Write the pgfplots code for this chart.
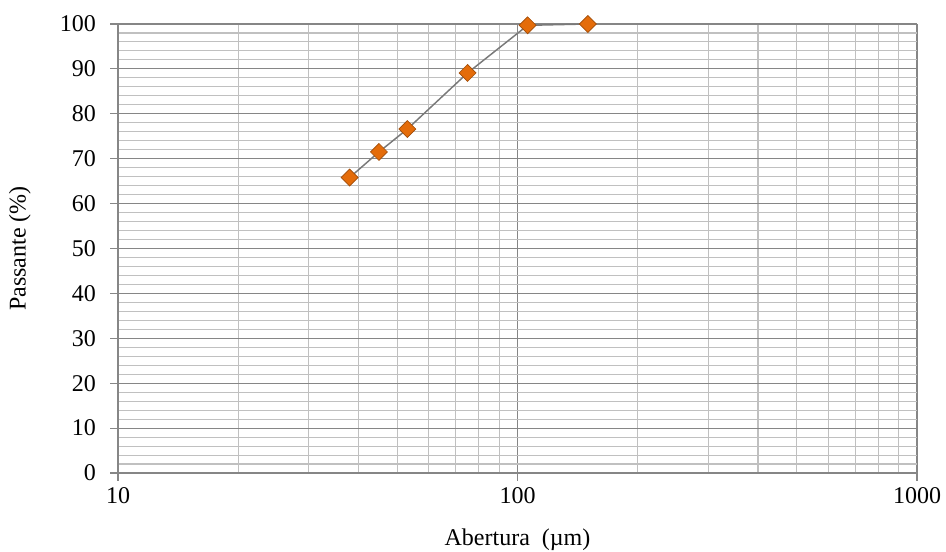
\documentclass[border=0pt]{standalone}
\usepackage{fontspec}
\setmainfont{Liberation Serif}
\usepackage{pgfplots}
\pgfplotsset{compat=1.18}
\definecolor{majg}{HTML}{868686}
\definecolor{ming}{HTML}{C0C0C0}
\definecolor{mk}{HTML}{E46C0A}
\definecolor{mkd}{HTML}{A04C08}
\begin{document}
\begin{tikzpicture}
\useasboundingbox (0,0) rectangle (709.5pt,414pt);
\begin{axis}[
  at={(88.5pt,59.25pt)}, anchor=south west,
  scale only axis, width=599.25pt, height=336.75pt,
  xmode=log, xmin=10, xmax=1000, ymin=0, ymax=100,
  log basis x=10,
  xtick={10,100,1000}, xticklabels={10,100,1000},
  minor xtick={20,30,40,50,60,70,80,90,200,300,400,500,600,700,800,900},
  ytick={0,10,...,100},
  minor ytick={2,4,6,8,12,14,16,18,22,24,26,28,32,34,36,38,42,44,46,48,52,54,56,58,62,64,66,68,72,74,76,78,82,84,86,88,92,94,96,98},
  grid=both,
  major grid style={majg, line width=0.8pt},
  minor grid style={ming, line width=0.8pt},
  axis lines=left, axis line style={-, majg, line width=0.8pt},
  tick align=outside, major tick length=6pt, minor tick length=0pt,
  tick style={majg, line width=0.8pt},
  ticklabel style={font=\fontsize{18}{20}\selectfont},
  yticklabel style={xshift=-7pt},
  xticklabel style={yshift=-1pt},
  /pgf/number format/assume math mode=true,
  xlabel={Abertura\ \ (µm)}, ylabel={Passante (\%)},
  label style={font=\fontsize{18}{20}\selectfont},
  xlabel style={at={(axis description cs:0.5,-0.1485)}, anchor=center},
  ylabel style={at={(axis description cs:-0.1227,0.5)}, anchor=center},
]
\addplot[color=gray!95!black, line width=1.1pt, mark=square*, mark size=4.5pt,
  mark options={rotate=45, fill=mk, draw=mkd, line width=0.5pt}]
  coordinates {(38,65.8) (45,71.5) (53,76.6) (75,89.1) (106,99.7) (150,100)};
\end{axis}
\end{tikzpicture}
\end{document}
